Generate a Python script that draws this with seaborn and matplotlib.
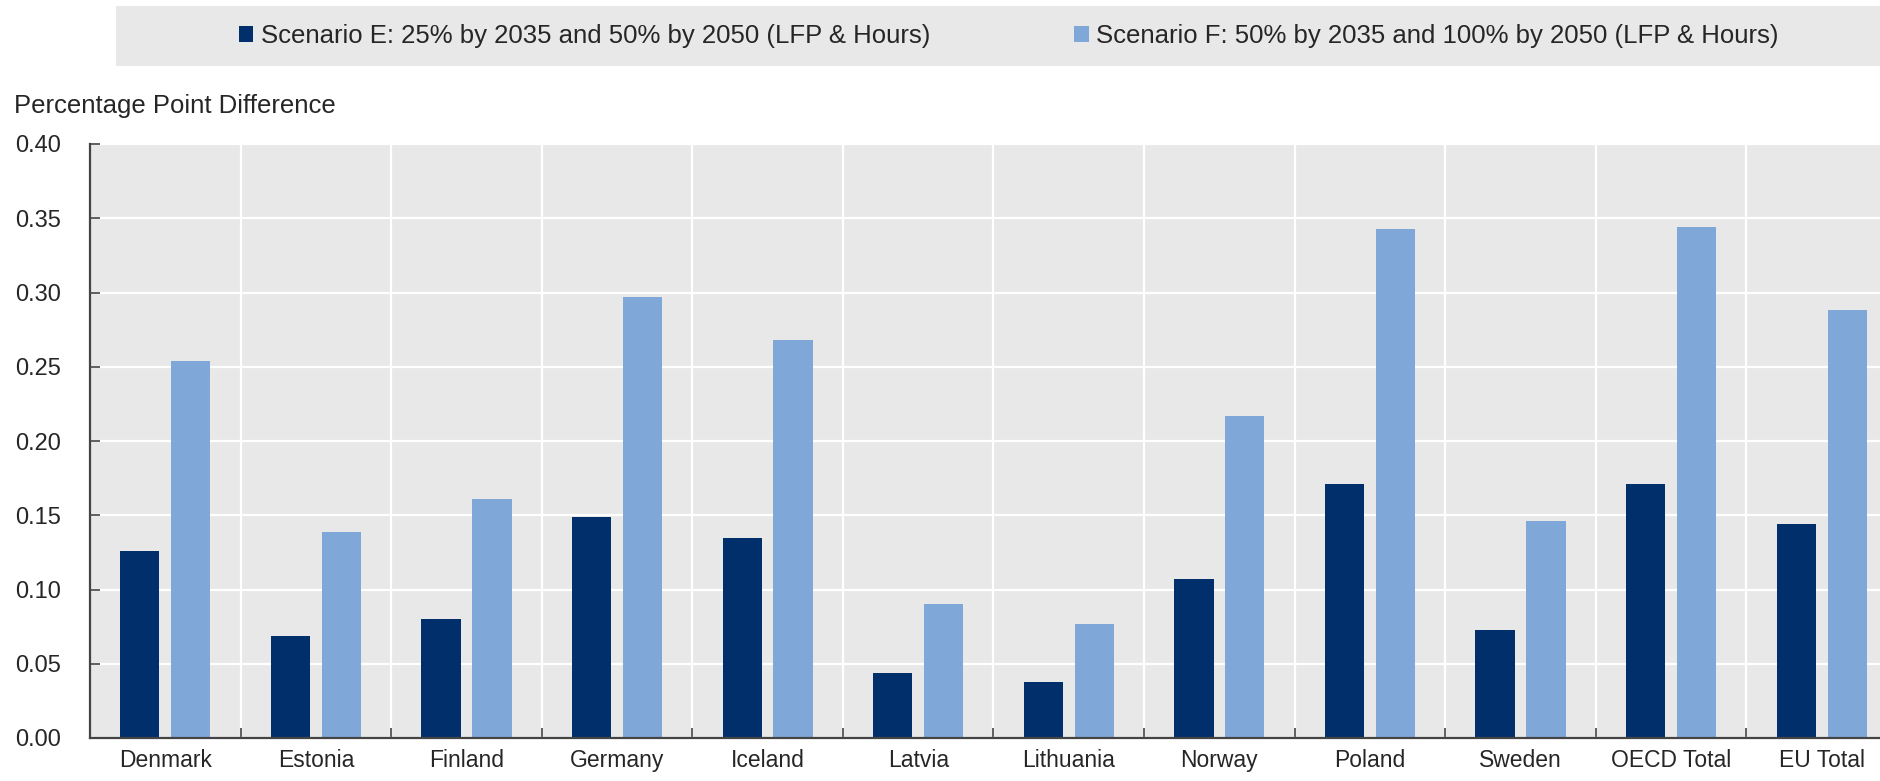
import pandas as pd
import matplotlib.pyplot as plt
import seaborn as sns
from matplotlib.patches import Rectangle

# --- Data ---
countries = ['Denmark', 'Estonia', 'Finland', 'Germany', 'Iceland', 'Latvia',
             'Lithuania', 'Norway', 'Poland', 'Sweden', 'OECD Total', 'EU Total']
scenario_e = [0.126, 0.069, 0.080, 0.149, 0.135, 0.044, 0.038, 0.107, 0.171, 0.073, 0.171, 0.144]
scenario_f = [0.254, 0.139, 0.161, 0.297, 0.268, 0.090, 0.077, 0.217, 0.343, 0.146, 0.344, 0.288]
label_e = 'Scenario E: 25% by 2035 and 50% by 2050 (LFP & Hours)'
label_f = 'Scenario F: 50% by 2035 and 100% by 2050 (LFP & Hours)'
y_ticks = [0.00, 0.05, 0.10, 0.15, 0.20, 0.25, 0.30, 0.35, 0.40]

df = pd.DataFrame({
    'country': countries * 2,
    'scenario': [label_e] * len(countries) + [label_f] * len(countries),
    'value': scenario_e + scenario_f,
})

# --- Style ---
sns.set_style('white')
plt.rcParams['font.family'] = ['Liberation Sans Narrow', 'Liberation Sans', 'DejaVu Sans']
bg = '#e8e8e8'
palette = {label_e: '#002f6c', label_f: '#7fa8d9'}

fig = plt.figure(figsize=(18.81, 7.81), dpi=100)
ax = fig.add_axes([90 / 1881, 43 / 781, 1807 / 1881, 594 / 781])
ax.set_facecolor(bg)

sns.barplot(data=df, x='country', y='value', hue='scenario', palette=palette,
            width=0.676, gap=0.23, saturation=1, linewidth=0, edgecolor='none', ax=ax)

ax.set_xlim(-0.5, 11.5)
ax.set_ylim(0, 0.40)
ax.set_yticks(y_ticks)
ax.set_yticklabels([f'{v:.2f}' for v in y_ticks])
ax.set_xticks([i + 0.5 for i in range(11)], minor=True)
ax.set_xlabel('')
ax.set_ylabel('')

ax.grid(axis='y', which='major', color='white', linewidth=1.6)
ax.grid(axis='x', which='minor', color='white', linewidth=1.6)
ax.set_axisbelow(True)

for side in ['top', 'right']:
    ax.spines[side].set_visible(False)
for side in ['left', 'bottom']:
    ax.spines[side].set_color('#444444')
    ax.spines[side].set_linewidth(1.6)

ax.tick_params(axis='y', direction='in', length=7, width=1.2, color='#444444',
               labelsize=17, pad=21, left=True)
ax.tick_params(axis='x', which='major', length=0, labelsize=16.5, pad=8)
ax.tick_params(axis='x', which='minor', direction='in', length=7, width=1.2,
               color='#444444', bottom=True)

# --- Legend band ---
handles, labels = ax.get_legend_handles_labels()
ax.get_legend().remove()
fig.patches.append(Rectangle((116 / 1881, 1 - 66 / 781), 1, 60 / 781,
                             transform=fig.transFigure, facecolor=bg,
                             edgecolor='none', zorder=0))
fig.legend(handles, labels, loc='center left', bbox_to_anchor=(229 / 1881, 1 - 36 / 781),
           ncol=2, frameon=False, fontsize=18.5, handlelength=0.55, handleheight=0.55,
           handletextpad=0.3, columnspacing=5.6, borderaxespad=0)

fig.text(14 / 1881, 1 - 106 / 781, 'Percentage Point Difference', fontsize=18.5,
         ha='left', va='center')

plt.savefig('out.png', dpi=100)
plt.close()
